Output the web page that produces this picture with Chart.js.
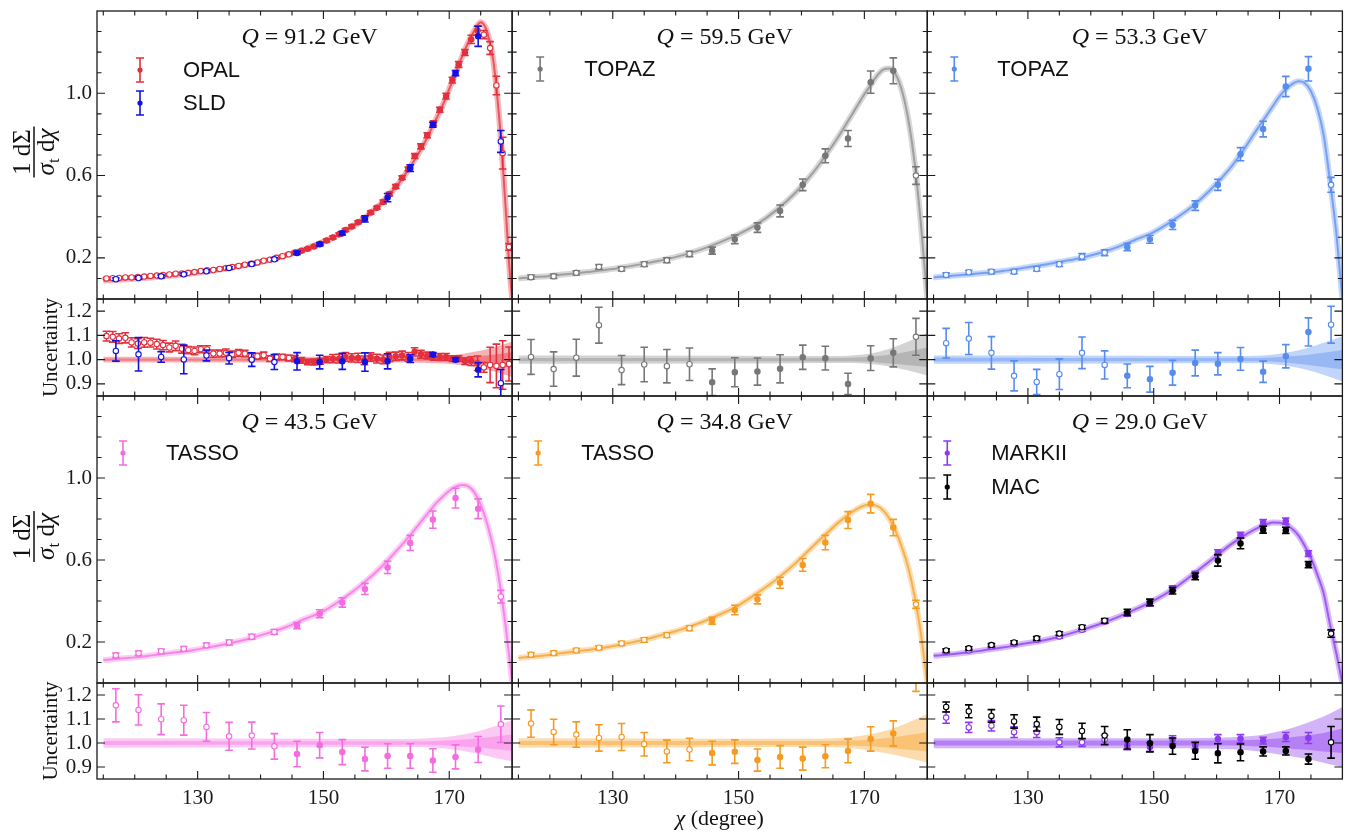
<!DOCTYPE html>
<html><head><meta charset="utf-8">
<script src="https://cdn.jsdelivr.net/npm/chart.js@4.4.1/dist/chart.umd.min.js"></script>
<style>html,body{margin:0;padding:0;background:#fff;}canvas{display:block;}</style>
</head><body>
<canvas id="c" width="1348" height="834"></canvas>
<script>
// ---------------- DATA ----------------
const chiBins = [117.0,120.6,124.2,127.8,131.4,135.0,138.6,142.2,145.8,149.4,153.0,156.6,160.2,163.8,167.4,171.0,174.6,178.2];
const opalChi = [115.5,116.5,117.5,118.5,119.5,120.5,121.5,122.5,123.5,124.5,125.5,126.5,127.5,128.5,129.5,130.5,131.5,132.5,133.5,134.5,135.5,136.5,137.5,138.5,139.5,140.5,141.5,142.5,143.5,144.5,145.5,146.5,147.5,148.5,149.5,150.5,151.5,152.5,153.5,154.5,155.5,156.5,157.5,158.5,159.5,160.5,161.5,162.5,163.5,164.5,165.5,166.5,167.5,168.5,169.5,170.5,171.5,172.5,173.5,174.5,175.5,176.5,177.5,178.5,179.5];
const opalMain = [0.100,0.101,0.102,0.105,0.105,0.107,0.109,0.112,0.114,0.117,
 0.119,0.123,0.124,0.127,0.131,0.136,0.140,0.141,0.146,0.151,
 0.155,0.161,0.167,0.171,0.178,0.186,0.191,0.200,0.208,0.217,
 0.226,0.234,0.244,0.255,0.268,0.284,0.299,0.315,0.335,0.352,
 0.373,0.391,0.421,0.444,0.472,0.510,0.547,0.590,0.632,0.695,
 0.742,0.796,0.854,0.920,0.986,1.064,1.140,1.198,1.262,1.305,
 1.285,1.220,1.038,0.709,0.253];
const opalMainErr = [0.004,0.004,0.004,0.004,0.004,0.004,0.004,0.004,0.004,0.004,
 0.004,0.004,0.004,0.004,0.004,0.004,0.004,0.004,0.004,0.004,
 0.004,0.004,0.004,0.004,0.004,
 0.005,0.005,0.005,0.005,0.005,0.005,0.005,0.005,0.005,0.005,
 0.007,0.007,0.007,0.007,0.007,0.007,0.007,0.007,0.007,
 0.009,0.009,0.009,0.009,0.009,
 0.012,0.012,0.012,0.012,0.012,
 0.014,0.014,0.014,0.014,
 0.020,0.022,
 0.020,0.031,0.045,0.077,0.016];
const opalRatio = [1.097,1.094,1.087,1.090,1.071,1.066,1.071,1.070,1.064,1.060,
 1.050,1.057,1.045,1.039,1.036,1.043,1.042,1.025,1.025,1.028,
 1.022,1.028,1.025,1.014,1.014,1.018,1.004,1.011,1.011,1.007,
 1.004,0.997,0.990,0.990,0.993,1.000,1.004,1.004,1.011,1.007,
 1.007,0.997,1.011,1.004,1.001,1.011,1.014,1.017,1.011,1.032,
 1.022,1.017,1.011,1.011,1.011,1.004,1.004,0.994,0.994,0.985,
 0.968,0.978,0.974,0.978,0.982];
const opalRatioErr = [0.020,0.022,0.020,0.021,0.019,0.020,0.020,0.018,0.020,0.019,0.018,0.020,0.018,
 0.015,0.016,0.014,0.015,0.015,0.014,0.016,0.013,0.014,0.013,0.014,0.012,0.013,
 0.012,0.012,0.011,0.012,0.013,0.012,0.011,0.012,0.012,0.013,
 0.017,0.018,0.018,0.017,0.019,0.018,0.017,0.018,0.018,0.019,0.017,0.018,0.018,0.017,
 0.016,0.014,0.013,0.014,0.014,0.012,0.012,0.014,
 0.018,0.030,
 0.020,0.073,0.090,0.100,0.070];

const sldMain = [0.096,0.102,0.110,0.120,0.135,0.151,0.170,0.193,0.224,0.266,0.320,0.389,0.493,0.636,0.847,1.098,1.277,0.766];
const sldMainErr = [0.006,0.006,0.006,0.006,0.006,0.006,0.007,0.007,0.008,0.008,0.009,0.015,0.020,0.016,0.012,0.012,0.049,0.053];
const sldRatio = [1.036,1.022,1.011,1.001,1.017,1.006,1.000,0.990,0.993,0.990,0.993,0.990,0.993,1.004,1.021,1.000,0.958,0.903];
const sldRatioErr = [0.042,0.069,0.022,0.059,0.022,0.024,0.028,0.031,0.036,0.028,0.033,0.038,0.031,0.016,0.008,0.008,0.029,0.056];

const topaz595Main = [0.106,0.110,0.127,0.156,0.146,0.169,0.188,0.219,0.235,0.290,0.347,0.428,0.555,0.696,0.780,1.054,1.109,0.600];
const topaz595MainErr = [0.010,0.010,0.010,0.011,0.010,0.011,0.012,0.013,0.017,0.021,0.023,0.029,0.028,0.034,0.039,0.054,0.063,0.043];
const topaz595Ratio = [1.011,0.961,1.008,1.142,0.957,0.980,0.973,0.981,0.907,0.948,0.951,0.962,1.010,1.006,0.900,1.006,1.028,1.094];
const topaz595RatioErr = [0.072,0.071,0.076,0.074,0.060,0.071,0.069,0.067,0.055,0.060,0.056,0.058,0.050,0.049,0.044,0.051,0.058,0.076];

const topaz533Main = [0.117,0.130,0.133,0.133,0.146,0.169,0.206,0.225,0.253,0.290,0.360,0.454,0.555,0.704,0.826,1.033,1.119,0.555];
const topaz533MainErr = [0.010,0.010,0.010,0.010,0.010,0.011,0.015,0.014,0.018,0.019,0.022,0.023,0.027,0.032,0.038,0.049,0.059,0.036];
const topaz533Ratio = [1.068,1.087,1.028,0.933,0.908,0.940,1.028,0.978,0.933,0.919,0.946,0.986,0.983,1.003,0.950,1.014,1.114,1.144];
const topaz533RatioErr = [0.061,0.066,0.067,0.062,0.052,0.063,0.065,0.058,0.049,0.053,0.051,0.053,0.046,0.047,0.044,0.048,0.058,0.076];

const tasso435Main = [0.135,0.145,0.155,0.167,0.184,0.198,0.226,0.249,0.280,0.338,0.393,0.459,0.564,0.683,0.797,0.902,0.850,0.421];
const tasso435MainErr = [0.011,0.011,0.011,0.011,0.011,0.012,0.012,0.012,0.015,0.019,0.023,0.027,0.030,0.037,0.042,0.048,0.048,0.031];
const tasso435Ratio = [1.157,1.138,1.099,1.095,1.067,1.028,1.031,0.986,0.954,0.991,0.962,0.933,0.946,0.946,0.927,0.942,0.973,1.078];
const tasso435RatioErr = [0.069,0.063,0.064,0.062,0.060,0.058,0.056,0.053,0.053,0.053,0.052,0.049,0.051,0.051,0.049,0.050,0.054,0.076];

const tasso348Main = [0.138,0.146,0.159,0.172,0.193,0.210,0.233,0.267,0.304,0.356,0.408,0.489,0.576,0.685,0.795,0.875,0.758,0.384];
const tasso348MainErr = [0.010,0.010,0.010,0.010,0.010,0.011,0.011,0.012,0.017,0.023,0.022,0.027,0.031,0.035,0.041,0.045,0.040,0.020];
const tasso348Ratio = [1.081,1.046,1.035,1.021,1.025,0.995,0.965,0.973,0.958,0.964,0.929,0.942,0.935,0.945,0.967,1.017,1.040,1.270];
const tasso348RatioErr = [0.057,0.053,0.053,0.055,0.056,0.049,0.047,0.047,0.049,0.049,0.046,0.047,0.048,0.048,0.049,0.051,0.052,0.055];

const markii290Main = [0.153,0.159,0.178,0.190,0.211,0.227,0.260,0.299,0.336,0.387,0.462,0.532,0.636,0.721,0.783,0.790,0.631];
const markii290MainErr = [0.008,0.008,0.008,0.008,0.008,0.008,0.009,0.009,0.010,0.011,0.012,0.013,0.014,0.014,0.014,0.015,0.014];
const markii290Ratio = [1.106,1.065,1.072,1.045,1.045,1.003,1.003,1.014,0.989,0.983,1.014,0.990,1.017,1.018,1.010,1.025,1.021];
const markii290RatioErr = [0.024,0.021,0.022,0.022,0.022,0.019,0.017,0.018,0.017,0.018,0.016,0.015,0.018,0.017,0.014,0.019,0.023];

const mac290Main = [0.159,0.169,0.185,0.198,0.218,0.241,0.272,0.304,0.345,0.393,0.450,0.520,0.598,0.681,0.748,0.745,0.577,0.241];
const mac290MainErr = [0.008,0.008,0.008,0.008,0.009,0.009,0.010,0.011,0.015,0.016,0.016,0.016,0.028,0.026,0.017,0.015,0.015,0.018];
const mac290Ratio = [1.150,1.132,1.113,1.090,1.079,1.067,1.050,1.031,1.015,0.999,0.987,0.967,0.957,0.961,0.965,0.967,0.933,1.003];
const mac290RatioErr = [0.021,0.027,0.026,0.028,0.029,0.031,0.032,0.038,0.040,0.036,0.034,0.035,0.040,0.035,0.019,0.017,0.021,0.066];

// theory curves (central values)
const theoryX = [115,117,120,123,126,129,132,135,138,141,144,147,150,153,156,159,162,164,166,168,169,170,171,172,173,174,175,176,177,178,179,179.5,180];
const theory912 = [0.090,0.093,0.099,0.106,0.114,0.124,0.136,0.150,0.167,0.187,0.212,0.242,0.278,0.323,0.381,0.460,0.563,0.652,0.755,0.880,0.945,1.020,1.098,1.175,1.245,1.305,1.345,1.300,1.160,0.860,0.430,0.180,0.0];
const theory595 = [0.100,0.105,0.112,0.121,0.131,0.142,0.156,0.172,0.190,0.212,0.240,0.275,0.315,0.365,0.432,0.515,0.620,0.705,0.795,0.895,0.945,0.995,1.040,1.085,1.115,1.120,1.090,1.010,0.870,0.660,0.360,0.180,0.0];
const theory533 = [0.105,0.110,0.118,0.126,0.136,0.150,0.164,0.180,0.197,0.220,0.250,0.287,0.325,0.381,0.447,0.530,0.630,0.712,0.805,0.895,0.940,0.985,1.020,1.045,1.058,1.050,1.010,0.930,0.800,0.580,0.330,0.165,0.0];
const theory435 = [0.112,0.117,0.125,0.136,0.147,0.159,0.175,0.193,0.215,0.242,0.272,0.312,0.350,0.409,0.478,0.560,0.658,0.729,0.805,0.880,0.910,0.938,0.958,0.966,0.960,0.930,0.870,0.780,0.660,0.490,0.270,0.140,0.0];
const theory348 = [0.122,0.128,0.138,0.150,0.161,0.174,0.192,0.211,0.236,0.262,0.295,0.334,0.379,0.439,0.505,0.583,0.672,0.730,0.786,0.833,0.852,0.866,0.870,0.864,0.842,0.800,0.740,0.660,0.560,0.420,0.240,0.120,0.0];
const theory290 = [0.133,0.138,0.147,0.160,0.173,0.190,0.205,0.226,0.253,0.283,0.318,0.358,0.402,0.456,0.524,0.596,0.670,0.712,0.748,0.775,0.783,0.782,0.772,0.752,0.720,0.670,0.610,0.530,0.440,0.290,0.150,0.075,0.0];

// relative uncertainty bands (ratio panels)
const bandX = [115,150,160,165,168,171,174,177,180];
const band912OuterHi = [1.012,1.012,1.012,1.013,1.015,1.020,1.032,1.050,1.075];
const band912OuterLo = [0.988,0.988,0.988,0.987,0.985,0.980,0.970,0.952,0.928];
const band912InnerHi = [1.005,1.005,1.005,1.005,1.006,1.008,1.012,1.020,1.030];
const band912InnerLo = [0.995,0.995,0.995,0.995,0.994,0.992,0.987,0.978,0.968];
const band595OuterHi = [1.017,1.016,1.015,1.015,1.017,1.025,1.045,1.075,1.110];
const band595OuterLo = [0.983,0.984,0.985,0.986,0.986,0.982,0.972,0.955,0.935];
const band595InnerHi = [1.007,1.007,1.007,1.007,1.008,1.012,1.020,1.034,1.050];
const band595InnerLo = [0.993,0.993,0.993,0.993,0.993,0.990,0.984,0.977,0.970];
const band533OuterHi = [1.017,1.016,1.015,1.015,1.018,1.028,1.045,1.070,1.095];
const band533OuterLo = [0.983,0.984,0.985,0.985,0.983,0.975,0.960,0.938,0.910];
const band533InnerHi = [1.008,1.007,1.007,1.007,1.008,1.012,1.018,1.028,1.040];
const band533InnerLo = [0.992,0.993,0.993,0.993,0.992,0.988,0.980,0.970,0.960];
const band435OuterHi = [1.020,1.018,1.017,1.018,1.022,1.030,1.045,1.068,1.095];
const band435OuterLo = [0.980,0.982,0.983,0.983,0.980,0.972,0.958,0.940,0.924];
const band435InnerHi = [1.008,1.007,1.007,1.007,1.008,1.012,1.018,1.026,1.035];
const band435InnerLo = [0.992,0.993,0.993,0.993,0.992,0.988,0.982,0.975,0.968];
const band348OuterHi = [1.020,1.018,1.018,1.020,1.025,1.036,1.055,1.085,1.120];
const band348OuterLo = [0.980,0.982,0.983,0.982,0.978,0.968,0.955,0.938,0.920];
const band348InnerHi = [1.008,1.008,1.008,1.008,1.010,1.015,1.022,1.033,1.045];
const band348InnerLo = [0.992,0.992,0.992,0.992,0.990,0.986,0.980,0.972,0.965];
const band290OuterHi = [1.020,1.020,1.022,1.028,1.038,1.055,1.080,1.110,1.150];
const band290OuterLo = [0.978,0.978,0.976,0.970,0.960,0.948,0.935,0.918,0.900];
const band290InnerHi = [1.010,1.010,1.010,1.012,1.016,1.022,1.030,1.042,1.060];
const band290InnerLo = [0.990,0.990,0.990,0.988,0.984,0.978,0.972,0.965,0.958];

// axes / ticks
const xMajorTicks = [130,150,170];
const xMinorTicks = [115,120,125,135,140,145,155,160,165,175];
const yMainMajor = [0.2,0.6,1.0];
const yMainMinor = [0.1,0.3,0.4,0.5,0.7,0.8,0.9,1.1,1.2,1.3];
const yRatioMajor = [0.9,1.0,1.1,1.2];
const energies = ['91.2','59.5','53.3','43.5','34.8','29.0'];
const FIT_RANGE = [145,175];

// ---------------- STYLE / PANELS ----------------
const SERIF = '"Liberation Serif","DejaVu Serif",serif';
const SANS = '"Liberation Sans",Arial,sans-serif';
const panelDefs = [
  {col:0,row:0,q:energies[0],theory:theory912,bands:[band912OuterHi,band912OuterLo,band912InnerHi,band912InnerLo],rgb:[228,52,64],leg:{mx:43,tx:86,y:59,dy:33},
   series:[{name:'OPAL',chi:opalChi,main:opalMain,mainErr:opalMainErr,ratio:opalRatio,ratioErr:opalRatioErr,color:'#e3303d'},
           {name:'SLD',chi:chiBins,main:sldMain,mainErr:sldMainErr,ratio:sldRatio,ratioErr:sldRatioErr,color:'#1212e6'}]},
  {col:1,row:0,q:energies[1],theory:theory595,bands:[band595OuterHi,band595OuterLo,band595InnerHi,band595InnerLo],rgb:[140,140,140],leg:{mx:28,tx:72,y:58,dy:33},
   series:[{name:'TOPAZ',chi:chiBins,main:topaz595Main,mainErr:topaz595MainErr,ratio:topaz595Ratio,ratioErr:topaz595RatioErr,color:'#777777'}]},
  {col:2,row:0,q:energies[2],theory:theory533,bands:[band533OuterHi,band533OuterLo,band533InnerHi,band533InnerLo],rgb:[92,142,240],leg:{mx:27,tx:70,y:58,dy:33},
   series:[{name:'TOPAZ',chi:chiBins,main:topaz533Main,mainErr:topaz533MainErr,ratio:topaz533Ratio,ratioErr:topaz533RatioErr,color:'#568cef'}]},
  {col:0,row:1,q:energies[3],theory:theory435,bands:[band435OuterHi,band435OuterLo,band435InnerHi,band435InnerLo],rgb:[246,112,226],leg:{mx:26,tx:69,y:57,dy:33},
   series:[{name:'TASSO',chi:chiBins,main:tasso435Main,mainErr:tasso435MainErr,ratio:tasso435Ratio,ratioErr:tasso435RatioErr,color:'#f46ce0'}]},
  {col:1,row:1,q:energies[4],theory:theory348,bands:[band348OuterHi,band348OuterLo,band348InnerHi,band348InnerLo],rgb:[246,160,40],leg:{mx:26,tx:69,y:57,dy:33},
   series:[{name:'TASSO',chi:chiBins,main:tasso348Main,mainErr:tasso348MainErr,ratio:tasso348Ratio,ratioErr:tasso348RatioErr,color:'#f59a22'}]},
  {col:2,row:1,q:energies[5],theory:theory290,bands:[band290OuterHi,band290OuterLo,band290InnerHi,band290InnerLo],rgb:[140,58,240],leg:{mx:20,tx:64,y:57,dy:34},
   series:[{name:'MARKII',chi:chiBins,main:markii290Main,mainErr:markii290MainErr,ratio:markii290Ratio,ratioErr:markii290RatioErr,color:'#8a3bf0'},
           {name:'MAC',chi:chiBins,main:mac290Main,mainErr:mac290MainErr,ratio:mac290Ratio,ratioErr:mac290RatioErr,color:'#000000'}]}
];

function rgba(c,a){return `rgba(${c[0]},${c[1]},${c[2]},${a})`;}

const datasets = [];
function addErr(xArr,yArr,eArr,xId,yId,color,order){
  const segs=[],caps=[],pts=[],fills=[];
  for(let i=0;i<yArr.length;i++){
    const x=xArr[i],y=yArr[i],e=eArr[i];
    segs.push({x,y:y-e},{x,y:y+e},{x,y:null});
    caps.push({x,y:y-e},{x,y:y+e});
    pts.push({x,y});
    fills.push(x>=FIT_RANGE[0]&&x<=FIT_RANGE[1]?color:'#ffffff');
  }
  datasets.push({type:'line',data:segs,xAxisID:xId,yAxisID:yId,borderColor:color,borderWidth:1.6,pointRadius:0,spanGaps:false,fill:false,order});
  datasets.push({type:'line',data:caps,xAxisID:xId,yAxisID:yId,showLine:false,pointStyle:'line',pointRadius:3.8,pointBorderWidth:1.6,pointBorderColor:color,borderColor:color,order});
  datasets.push({type:'line',data:pts,xAxisID:xId,yAxisID:yId,showLine:false,pointStyle:'circle',pointRadius:2.7,pointBorderWidth:1.1,pointBorderColor:color,pointBackgroundColor:fills,borderColor:color,order:order-1});
}
panelDefs.forEach(p=>{
  const xId='x'+p.col, ymId='ym'+p.row, yrId='yr'+p.row;
  const [oh,ol,ih,il]=p.bands;
  const bl=arr=>bandX.map((x,i)=>({x,y:arr[i]}));
  const bandBase={type:'line',xAxisID:xId,yAxisID:yrId,borderWidth:0,pointRadius:0,cubicInterpolationMode:'monotone'};
  datasets.push({...bandBase,data:bl(oh),fill:'+1',backgroundColor:rgba(p.rgb,0.38),order:20});
  datasets.push({...bandBase,data:bl(ol),fill:false,order:20});
  datasets.push({...bandBase,data:bl(ih),fill:'+1',backgroundColor:rgba(p.rgb,0.42),order:19});
  datasets.push({...bandBase,data:bl(il),fill:false,order:19});
  const th=theoryX.map((x,i)=>({x,y:p.theory[i]}));
  datasets.push({type:'line',data:th,xAxisID:xId,yAxisID:ymId,borderColor:rgba(p.rgb,0.35),borderWidth:6,pointRadius:0,cubicInterpolationMode:'monotone',fill:false,order:18});
  datasets.push({type:'line',data:th,xAxisID:xId,yAxisID:ymId,borderColor:rgba(p.rgb,0.75),borderWidth:2,pointRadius:0,cubicInterpolationMode:'monotone',fill:false,order:17});
  p.series.forEach((s,k)=>{
    addErr(s.chi,s.main,s.mainErr,xId,ymId,s.color,10-3*k);
    addErr(s.chi,s.ratio,s.ratioErr,xId,yrId,s.color,10-3*k);
  });
});

// ---------------- SCALES ----------------
function yAxis(min,max,ticksArr,weight,stackWeight){
  return {type:'linear',position:'left',stack:'rows',stackWeight,weight,min,max,
    grid:{display:false,drawTicks:false},border:{display:false},
    ticks:{font:{family:SERIF,size:21},color:'#1a1a1a',padding:5,autoSkip:false,callback:v=>Number(v).toFixed(1)},
    afterBuildTicks:s=>{s.ticks=ticksArr.map(v=>({value:v}));},
    afterFit:s=>{s.width=97;s.paddingTop=0;s.paddingBottom=0;s.paddingLeft=0;s.paddingRight=0;}};
}
function xAxis(weight){
  return {type:'linear',position:'bottom',stack:'cols',stackWeight:1,weight,min:114,max:180,
    grid:{display:false,drawTicks:false},border:{display:false},
    ticks:{font:{family:SERIF,size:21},color:'#1a1a1a',padding:7,maxRotation:0,autoSkip:false,callback:v=>String(v)},
    afterBuildTicks:s=>{s.ticks=xMajorTicks.map(v=>({value:v}));},
    afterFit:s=>{s.height=55;s.paddingTop=0;s.paddingBottom=0;s.paddingLeft=0;s.paddingRight=0;}};
}

// ---------------- PLUGINS ----------------
const panelClip={id:'panelClip',
  beforeDatasetDraw(chart,args){const m=args.meta,xs=m.xScale,ys=m.yScale,ctx=chart.ctx;
    ctx.save();ctx.beginPath();ctx.rect(xs.left,ys.top,xs.right-xs.left,ys.bottom-ys.top);ctx.clip();},
  afterDatasetDraw(chart){chart.ctx.restore();}};

function drawYLabel(ctx,cx,cy){
  ctx.save();ctx.translate(cx,cy);ctx.rotate(-Math.PI/2);
  ctx.fillStyle='#111';ctx.strokeStyle='#111';ctx.textBaseline='alphabetic';ctx.textAlign='left';
  const F=25, up=`${F}px ${SERIF}`, it=`italic ${F}px ${SERIF}`, sub=`17px ${SERIF}`;
  ctx.font=up;const num='1 d\u03A3';const nw=ctx.measureText(num).width;
  const parts=[['\u03C3',it,0],['t',sub,5],[' d',up,0],['\u03C7',it,0]];
  let dw=0;parts.forEach(([t,f])=>{ctx.font=f;dw+=ctx.measureText(t).width;});
  const bw=Math.max(nw,dw)+4;
  ctx.font=up;ctx.fillText(num,-nw/2,-4);
  let x=-dw/2;parts.forEach(([t,f,dy])=>{ctx.font=f;ctx.fillText(t,x,20+dy);x+=ctx.measureText(t).width;});
  ctx.lineWidth=1.5;ctx.beginPath();ctx.moveTo(-bw/2,0);ctx.lineTo(bw/2,0);ctx.stroke();
  ctx.restore();
}
function drawRotText(ctx,text,cx,cy,font){
  ctx.save();ctx.translate(cx,cy);ctx.rotate(-Math.PI/2);ctx.font=font;ctx.fillStyle='#111';
  ctx.textAlign='center';ctx.textBaseline='middle';ctx.fillText(text,0,0);ctx.restore();
}
function legendGlyph(ctx,x,y,color){
  ctx.strokeStyle=color;ctx.fillStyle=color;ctx.lineWidth=1.6;
  ctx.beginPath();ctx.moveTo(x,y-12);ctx.lineTo(x,y+12);
  ctx.moveTo(x-4,y-12);ctx.lineTo(x+4,y-12);ctx.moveTo(x-4,y+12);ctx.lineTo(x+4,y+12);ctx.stroke();
  ctx.beginPath();ctx.arc(x,y,2.6,0,Math.PI*2);ctx.fill();
}

const decor={id:'decor',
  afterDraw(chart){
    const ctx=chart.ctx, S=chart.scales;
    const xs=[S.x0,S.x1,S.x2], rows=[S.ym0,S.yr0,S.ym1,S.yr1];
    ctx.save();
    xs.forEach(sx=>{rows.forEach((sy,r)=>{
      const L=sx.left,R=sx.right,T=sy.top,B=sy.bottom;
      ctx.strokeStyle='#1a1a1a';ctx.lineWidth=1.3;ctx.strokeRect(L,T,R-L,B-T);
      ctx.lineWidth=1.1;ctx.beginPath();
      const xt=(v,len)=>{const p=sx.getPixelForValue(v);ctx.moveTo(p,B);ctx.lineTo(p,B-len);ctx.moveTo(p,T);ctx.lineTo(p,T+len);};
      const yt=(v,len)=>{const p=sy.getPixelForValue(v);ctx.moveTo(L,p);ctx.lineTo(L+len,p);ctx.moveTo(R,p);ctx.lineTo(R-len,p);};
      xMajorTicks.forEach(v=>xt(v,8));xMinorTicks.forEach(v=>xt(v,4.5));
      if(r%2===0){yMainMajor.forEach(v=>yt(v,8));yMainMinor.forEach(v=>yt(v,4.5));}
      else{yRatioMajor.forEach(v=>yt(v,8));}
      ctx.stroke();
    });});
    panelDefs.forEach(p=>{
      const sx=xs[p.col], sy=rows[p.row*2];
      const cx=(sx.left+sx.right)/2+5, by=sy.top+33;
      ctx.fillStyle='#111';ctx.textBaseline='alphabetic';ctx.textAlign='left';
      ctx.font=`italic 24px ${SERIF}`;const wq=ctx.measureText('Q').width;
      ctx.font=`24px ${SERIF}`;const rest=' = '+p.q+' GeV';const wr=ctx.measureText(rest).width;
      const x0=cx-(wq+wr)/2;
      ctx.font=`italic 24px ${SERIF}`;ctx.fillText('Q',x0,by);
      ctx.font=`24px ${SERIF}`;ctx.fillText(rest,x0+wq,by);
      p.series.forEach((s,k)=>{
        const y=sy.top+p.leg.y+k*p.leg.dy;
        legendGlyph(ctx,sx.left+p.leg.mx,y,s.color);
        ctx.fillStyle='#111';ctx.font=`22px ${SANS}`;ctx.textBaseline='middle';ctx.textAlign='left';
        ctx.fillText(s.name,sx.left+p.leg.tx,y+1);
      });
    });
    drawYLabel(ctx,34,(S.ym0.top+S.ym0.bottom)/2-3);
    drawYLabel(ctx,34,(S.ym1.top+S.ym1.bottom)/2-3);
    drawRotText(ctx,'Uncertainty',51,(S.yr0.top+S.yr0.bottom)/2,`21px ${SERIF}`);
    drawRotText(ctx,'Uncertainty',51,(S.yr1.top+S.yr1.bottom)/2,`21px ${SERIF}`);
    ctx.fillStyle='#111';ctx.textBaseline='alphabetic';ctx.textAlign='left';
    ctx.font=`italic 22px ${SERIF}`;const wc=ctx.measureText('\u03C7').width;
    ctx.font=`22px ${SERIF}`;const wd=ctx.measureText(' (degree)').width;
    const lx=(S.x1.left+S.x1.right)/2-(wc+wd)/2;
    ctx.font=`italic 22px ${SERIF}`;ctx.fillText('\u03C7',lx,825);
    ctx.font=`22px ${SERIF}`;ctx.fillText(' (degree)',lx+wc,825);
    ctx.restore();
  }};

new Chart(document.getElementById('c'),{
  type:'line',
  data:{datasets},
  options:{
    responsive:false,animation:false,devicePixelRatio:1,events:[],
    layout:{padding:{top:11,right:5,bottom:0,left:0}},
    plugins:{legend:{display:false},tooltip:{enabled:false},colors:{enabled:false}},
    scales:{
      x0:xAxis(1),x1:xAxis(2),x2:xAxis(3),
      ym0:yAxis(0,1.4,yMainMajor,4,288),
      yr0:yAxis(0.85,1.25,yRatioMajor,3,97),
      ym1:yAxis(0,1.4,yMainMajor,2,287),
      yr1:yAxis(0.85,1.25,yRatioMajor,1,96)
    }
  },
  plugins:[panelClip,decor]
});
</script>
</body></html>
